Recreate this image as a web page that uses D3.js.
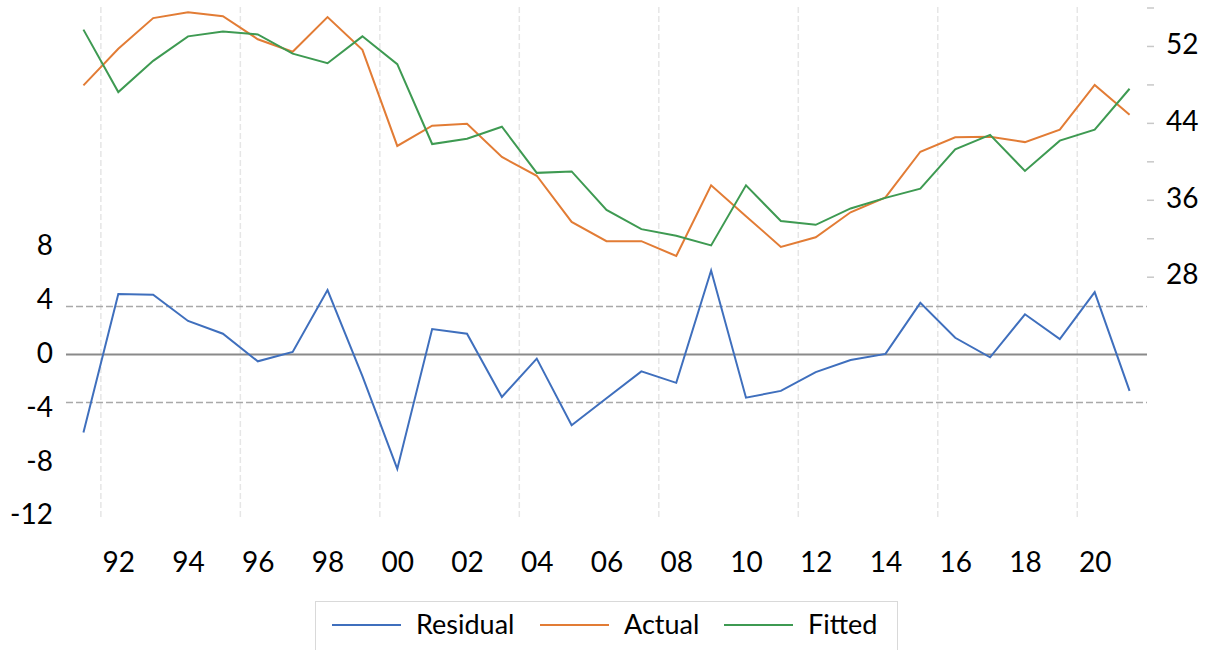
<!DOCTYPE html>
<html>
<head>
<meta charset="utf-8">
<script src="https://cdn.jsdelivr.net/npm/d3@7"></script>
<style>
  body { margin: 0; background: #fff; }
  text { font-family: Lato, "Open Sans", sans-serif; fill: #000; }
</style>
</head>
<body>
<div class="chart"></div>
<script>
// Residual / Actual / Fitted, 1991-2021
let years = d3.range(1991, 2022);

let residual = [-5.8, 4.5, 4.45, 2.5, 1.55, -0.5, 0.2, 4.8, -1.6, -8.5,
  1.9, 1.55, -3.15, -0.3, -5.25, -3.25, -1.25, -2.1, 6.25, -3.2,
  -2.7, -1.3, -0.4, 0.05, 3.85, 1.25, -0.2, 3.0, 1.15, 4.65, -2.7];

let actual = [47.9, 51.7, 54.9, 55.5, 55.1, 52.7, 51.4, 55.0, 51.6, 41.6,
  43.7, 43.9, 40.45, 38.5, 33.7, 31.7, 31.7, 30.15, 37.5, 34.3,
  31.1, 32.1, 34.7, 36.25, 41.0, 42.5, 42.55, 42.0, 43.3, 47.95, 44.85];

let fitted = [53.7, 47.2, 50.45, 53.0, 53.5, 53.2, 51.2, 50.2, 53.0, 50.1,
  41.8, 42.35, 43.6, 38.8, 38.95, 34.95, 32.95, 32.25, 31.25, 37.5,
  33.8, 33.4, 35.1, 36.2, 37.15, 41.25, 42.75, 39.0, 42.15, 43.3, 47.55];

let leftTicks = [-12, -8, -4, 0, 4, 8];
let rightTicks = [28, 32, 36, 40, 44, 48, 52, 56];
let rightLabels = [28, 36, 44, 52];
let stdBand = 3.57;

let svgWidth = 1210;
let svgHeight = 650;
let plot = { left: 66, right: 1147, top: 7, bottom: 517 };

let colors = { Residual: "#3f6fbd", Actual: "#e27c35", Fitted: "#3e9a52" };

let svg = d3.select(".chart")
  .append("svg")
  .attr("width", svgWidth)
  .attr("height", svgHeight);

// x scales: points at band centres, gridlines on band edges
let xBand = d3.scaleBand().domain(years).range([plot.left, plot.right]);
let x = d3.scalePoint().domain(years).range([plot.left, plot.right]).padding(0.5);

let yLeft = d3.scaleLinear().domain([-12, 8]).range([516, 247]);
let yRight = d3.scaleLinear().domain([28, 56]).range([276.7, 7.5]);

// vertical dashed gridlines every 4 years
let gridYears = years.filter(d => d >= 1992 && (d - 1992) % 4 == 0);
svg.append("g")
  .selectAll("line")
  .data(gridYears)
  .enter()
  .append("line")
  .attr("x1", d => xBand(d))
  .attr("x2", d => xBand(d))
  .attr("y1", plot.top)
  .attr("y2", plot.bottom)
  .attr("stroke", "#e6e6e6")
  .attr("stroke-width", 1.5)
  .attr("stroke-dasharray", "6,3");

// residual std bands and zero line
svg.append("g")
  .selectAll("line")
  .data([stdBand, -stdBand])
  .enter()
  .append("line")
  .attr("x1", plot.left)
  .attr("x2", plot.right)
  .attr("y1", d => yLeft(d))
  .attr("y2", d => yLeft(d))
  .attr("stroke", "#a9a9a9")
  .attr("stroke-width", 1.5)
  .attr("stroke-dasharray", "7,3");

svg.append("line")
  .attr("x1", plot.left)
  .attr("x2", plot.right)
  .attr("y1", yLeft(0))
  .attr("y2", yLeft(0))
  .attr("stroke", "#8a8a8a")
  .attr("stroke-width", 2);

// left axis (plain hyphen for negatives)
let leftAxis = svg.append("g")
  .attr("transform", `translate(${plot.left}, 0)`)
  .call(d3.axisLeft(yLeft)
    .tickValues(leftTicks)
    .tickSize(0)
    .tickPadding(13)
    .tickFormat(d => String(d)));
leftAxis.select(".domain").remove();
leftAxis.selectAll("text")
  .attr("font-size", "28px")
  .attr("dy", "0.28em")
  .style("font-family", "Lato, sans-serif");

// right axis
let rightAxis = svg.append("g")
  .attr("transform", `translate(${plot.right}, 0)`)
  .call(d3.axisRight(yRight)
    .tickValues(rightTicks)
    .tickSize(7)
    .tickPadding(12)
    .tickFormat(d => rightLabels.includes(d) ? d : ""));
rightAxis.select(".domain").remove();
rightAxis.selectAll("line").attr("stroke", "#c8c8c8").attr("stroke-width", 1.5);
rightAxis.selectAll("text")
  .attr("font-size", "28px")
  .attr("dy", "0.26em")
  .style("font-family", "Lato, sans-serif");

// bottom axis
let bottomAxis = svg.append("g")
  .attr("transform", `translate(0, ${plot.bottom})`)
  .call(d3.axisBottom(x)
    .tickValues(years.filter(d => d % 2 == 0))
    .tickSize(0)
    .tickPadding(35)
    .tickFormat(d => String(d).slice(2)));
bottomAxis.select(".domain").remove();
bottomAxis.selectAll("text")
  .attr("font-size", "28px")
  .style("font-family", "Lato, sans-serif");

// lines
function drawLine(values, yScale, color) {
  let line = d3.line()
    .x((d, i) => x(years[i]))
    .y(d => yScale(d));
  svg.append("path")
    .datum(values)
    .attr("d", line)
    .attr("fill", "none")
    .attr("stroke", color)
    .attr("stroke-width", 2)
    .attr("stroke-linejoin", "miter");
}

drawLine(actual, yRight, colors.Actual);
drawLine(fitted, yRight, colors.Fitted);
drawLine(residual, yLeft, colors.Residual);

// legend
let legend = svg.append("g");
legend.append("rect")
  .attr("x", 315.5)
  .attr("y", 601.5)
  .attr("width", 582)
  .attr("height", 50)
  .attr("fill", "#fff")
  .attr("stroke", "#d9d9d9");

let legendItems = [
  { name: "Residual", x: 332 },
  { name: "Actual", x: 540 },
  { name: "Fitted", x: 724 }
];

let items = legend.selectAll(".item")
  .data(legendItems)
  .enter()
  .append("g")
  .attr("class", "item")
  .attr("transform", d => `translate(${d.x}, 625)`);

items.append("line")
  .attr("x1", 0)
  .attr("x2", 69)
  .attr("stroke", d => colors[d.name])
  .attr("stroke-width", 2);

items.append("text")
  .attr("x", 84)
  .attr("dy", "0.33em")
  .attr("font-size", "27px")
  .text(d => d.name);
</script>
</body>
</html>
